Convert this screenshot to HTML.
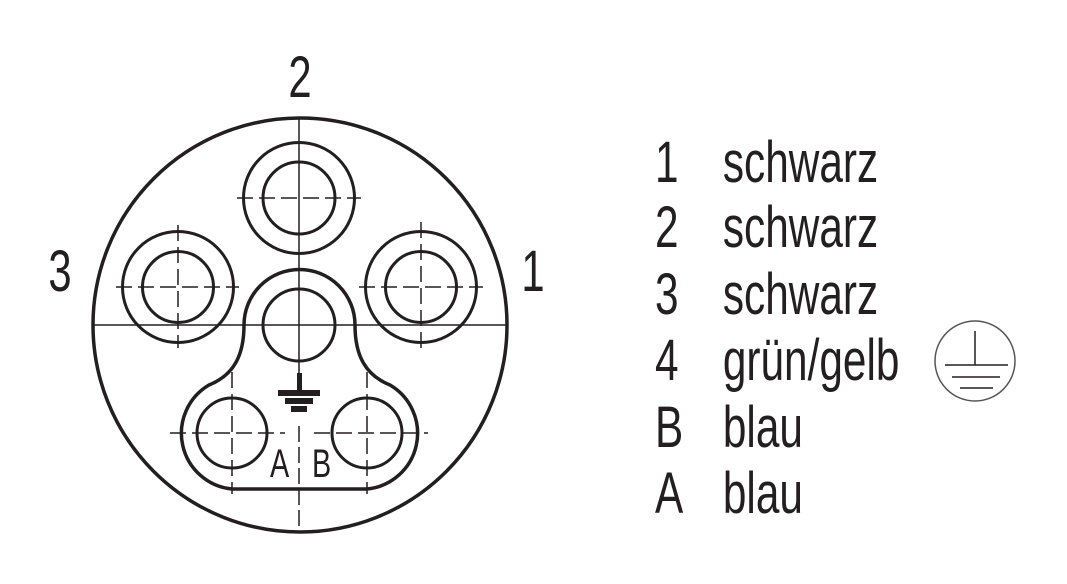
<!DOCTYPE html>
<html><head><style>
html,body{margin:0;padding:0;background:#fff;}
svg{display:block}
text{font-family:"Liberation Sans",sans-serif;fill:#231f20;}
</style></head><body>
<svg width="1067" height="584" viewBox="0 0 1067 584" xmlns="http://www.w3.org/2000/svg">
<g stroke="#231f20" fill="none">
<circle cx="300" cy="325" r="207" stroke-width="3.5"/>
<line x1="93" y1="325" x2="507" y2="325" stroke-width="1.5"/>
<line x1="299" y1="118" x2="299" y2="360" stroke-width="1.5"/>
<line x1="299" y1="360" x2="299" y2="375" stroke-width="1.5"/>
<line x1="299" y1="426" x2="299" y2="532" stroke-width="1.5" stroke-dasharray="16,5"/>
<!-- top pin -->
<circle cx="299" cy="198" r="55.5" stroke-width="3"/>
<circle cx="299" cy="198" r="36" stroke-width="3"/>
<line x1="237" y1="198" x2="361" y2="198" stroke-width="1.5" stroke-dasharray="16,6"/>
<!-- left pin -->
<circle cx="178" cy="287" r="55.5" stroke-width="3"/>
<circle cx="178" cy="287" r="35.5" stroke-width="3"/>
<line x1="116" y1="287" x2="239" y2="287" stroke-width="1.5" stroke-dasharray="16,6"/>
<line x1="178" y1="225" x2="178" y2="348" stroke-width="1.5" stroke-dasharray="16,6"/>
<!-- right pin -->
<circle cx="421" cy="287" r="55.5" stroke-width="3"/>
<circle cx="421" cy="287" r="35.5" stroke-width="3"/>
<line x1="359" y1="287" x2="483" y2="287" stroke-width="1.5" stroke-dasharray="16,6"/>
<line x1="421" y1="222" x2="421" y2="353" stroke-width="1.5" stroke-dasharray="16,6"/>
<!-- middle pin -->
<circle cx="299" cy="325" r="36" stroke-width="3"/>
<!-- blob -->
<path d="M244,325 A55.5 55.5 0 0 1 355,325 C355,355 365,375 390,385 A56 56 0 0 1 367,489 L232,489 A56 56 0 0 1 209,385 C234,375 244,355 244,325 Z" stroke-width="3.5"/>
<!-- bottom pins -->
<circle cx="232" cy="433" r="35" stroke-width="3"/>
<circle cx="367" cy="433" r="35" stroke-width="3"/>
<line x1="170" y1="433" x2="285" y2="433" stroke-width="1.5" stroke-dasharray="16,6"/>
<line x1="314" y1="433" x2="428" y2="433" stroke-width="1.5" stroke-dasharray="16,6"/>
<line x1="232" y1="372" x2="232" y2="494" stroke-width="1.5" stroke-dasharray="16,6"/>
<line x1="367" y1="372" x2="367" y2="494" stroke-width="1.5" stroke-dasharray="16,6"/>
</g>
<!-- ground symbol -->
<g fill="#231f20">
<rect x="297" y="373" width="5" height="20"/>
<rect x="278" y="390" width="42" height="6"/>
<rect x="285" y="398" width="28" height="6"/>
<rect x="291" y="406" width="16" height="6"/>
</g>
<g font-size="40">
<text x="270" y="477" transform="translate(270,0) scale(0.72,1) translate(-270,0)">A</text>
<text x="312" y="477" transform="translate(312,0) scale(0.72,1) translate(-312,0)">B</text>
</g>
<g font-size="58">
<text x="300" y="97" text-anchor="middle" transform="translate(300,0) scale(0.72,1) translate(-300,0)">2</text>
<text x="60" y="291" text-anchor="middle" transform="translate(60,0) scale(0.72,1) translate(-60,0)">3</text>
<text x="533" y="291" text-anchor="middle" transform="translate(533,0) scale(0.72,1) translate(-533,0)">1</text>
</g>
<g font-size="58" transform="translate(655,0) scale(0.73,1)">
<text x="0" y="182">1</text><text x="93" y="182">schwarz</text>
<text x="0" y="247">2</text><text x="93" y="247">schwarz</text>
<text x="0" y="314">3</text><text x="93" y="314">schwarz</text>
<text x="0" y="380">4</text><text x="93" y="380">grün/gelb</text>
<text x="0" y="447">B</text><text x="93" y="447">blau</text>
<text x="0" y="513">A</text><text x="93" y="513">blau</text>
</g>
<g stroke="#231f20" fill="none" stroke-width="1.5">
<circle cx="975" cy="361" r="40" stroke="#555"/>
<line x1="975" y1="331" x2="975" y2="365"/>
<line x1="945" y1="365" x2="1008" y2="365"/>
<line x1="952" y1="377" x2="1000" y2="377"/>
<line x1="960" y1="388" x2="993" y2="388"/>
</g>
</svg>
</body></html>
